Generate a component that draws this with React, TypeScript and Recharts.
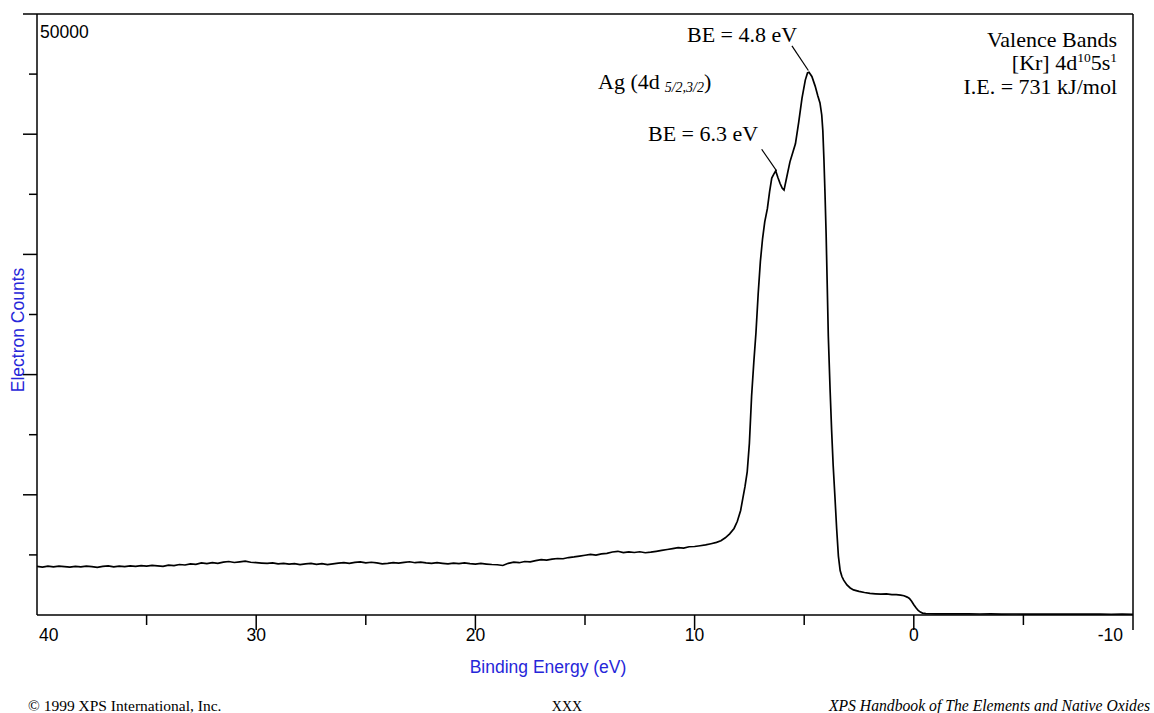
import React from "react";
import { LineChart, Line, XAxis, YAxis, ReferenceLine } from "recharts";

// Ag valence band spectrum, binding energy (eV) vs electron counts
const baseline: [number, number][] = [
  [40, 4050], [39.75, 3990], [39.5, 4060], [39.25, 4010], [39, 4070], [38.75, 4020],
  [38.5, 3980], [38.25, 4050], [38, 4000], [37.75, 4060], [37.5, 4030], [37.25, 3970],
  [37, 4040], [36.75, 4080], [36.5, 4010], [36.25, 4060], [36, 4020], [35.75, 4090],
  [35.5, 4040], [35.25, 4110], [35, 4060], [34.75, 4130], [34.5, 4090], [34.25, 4040],
  [34, 4150], [33.75, 4110], [33.5, 4200], [33.25, 4160], [33, 4260], [32.75, 4210],
  [32.5, 4330], [32.25, 4270], [32, 4350], [31.75, 4300], [31.5, 4400], [31.25, 4450],
  [31, 4370], [30.75, 4420], [30.5, 4480], [30.25, 4390], [30, 4360], [29.75, 4320],
  [29.5, 4290], [29.25, 4340], [29, 4260], [28.75, 4300], [28.5, 4230], [28.25, 4280],
  [28, 4200], [27.75, 4260], [27.5, 4300], [27.25, 4220], [27, 4270], [26.75, 4190],
  [26.5, 4250], [26.25, 4310], [26, 4360], [25.75, 4290], [25.5, 4380], [25.25, 4420],
  [25, 4340], [24.75, 4390], [24.5, 4330], [24.25, 4260], [24, 4300], [23.75, 4360],
  [23.5, 4310], [23.25, 4380], [23, 4430], [22.75, 4350], [22.5, 4400], [22.25, 4330],
  [22, 4290], [21.75, 4350], [21.5, 4300], [21.25, 4260], [21, 4320], [20.75, 4280],
  [20.5, 4330], [20.25, 4270], [20, 4230], [19.75, 4290], [19.5, 4240], [19.25, 4200],
  [19, 4180], [18.75, 4120], [18.5, 4300], [18.25, 4400], [18, 4350], [17.75, 4450],
  [17.5, 4420], [17.25, 4530], [17, 4600], [16.75, 4560], [16.5, 4650], [16.25, 4700],
  [16, 4680], [15.75, 4780], [15.5, 4830], [15.25, 4900], [15, 4970], [14.75, 5050],
  [14.5, 4990], [14.25, 5080], [14, 5130], [13.75, 5240], [13.5, 5300], [13.25, 5190],
  [13, 5250], [12.75, 5200], [12.5, 5260], [12.25, 5180], [12, 5230], [11.75, 5300],
  [11.5, 5380], [11.25, 5450], [11, 5520], [10.75, 5600], [10.5, 5560], [10.25, 5680],
  [10, 5700],
];

const peak: [number, number][] = [
  [9.75, 5760], [9.5, 5830], [9.25, 5930], [9, 6040], [8.8, 6180], [8.6, 6420],
  [8.4, 6750], [8.2, 7200], [8.05, 7800], [7.9, 8700], [7.8, 9700], [7.7, 10700],
  [7.6, 11900], [7.5, 14300], [7.4, 18200], [7.3, 21000], [7.2, 23500], [7.1, 26700],
  [7, 29400], [6.9, 31300], [6.8, 32700], [6.68, 33800], [6.58, 35200], [6.48, 36350],
  [6.38, 36700], [6.3, 36950], [6.2, 36400], [6.1, 35900], [6, 35500], [5.92, 35350],
  [5.8, 36400], [5.65, 37700], [5.5, 38600], [5.4, 39200], [5.25, 41000], [5.1, 43000],
  [4.95, 44500], [4.85, 45100], [4.78, 45150], [4.65, 44800], [4.5, 44000], [4.38, 43200],
  [4.28, 42600], [4.2, 41600], [4.15, 40300], [4.1, 37900], [4.05, 35000], [4, 31700],
  [3.95, 27500], [3.9, 23200], [3.82, 18800], [3.75, 15400], [3.68, 12500], [3.6, 9900],
  [3.52, 7200], [3.44, 4900], [3.36, 3700], [3.28, 3200], [3.2, 2900], [3.05, 2500],
  [2.9, 2250], [2.75, 2090], [2.5, 1960], [2.25, 1870],
];

const tail: [number, number][] = [
  [2, 1800], [1.75, 1760], [1.5, 1730], [1.25, 1750], [1, 1700], [0.8, 1690],
  [0.6, 1660], [0.45, 1600], [0.3, 1490], [0.2, 1380], [0.1, 1150], [0, 860],
  [-0.1, 600], [-0.2, 380], [-0.3, 240], [-0.4, 160], [-0.55, 120], [-0.75, 105],
  [-1, 100], [-1.5, 95], [-2, 90], [-2.5, 95], [-3, 85], [-3.5, 90], [-4, 80],
  [-4.5, 85], [-5, 80], [-5.5, 75], [-6, 80], [-6.5, 70], [-7, 75], [-7.5, 70],
  [-8, 65], [-8.5, 70], [-9, 60], [-9.5, 65], [-10, 60],
];

const xTicks = [40, 35, 30, 25, 20, 15, 10, 5, 0, -5, -10];
const yTicks = [0, 5000, 10000, 15000, 20000, 25000, 30000, 35000, 40000, 45000, 50000];

// leader lines from the peak labels to the peaks
const leader48: [number, number][] = [[5.56, 47350], [4.81, 45300]];
const leader63: [number, number][] = [[6.94, 38750], [6.26, 36950]];

const data = [...baseline, ...peak, ...tail].map(([be, counts]) => ({ be, counts }));

const SANS = "'Liberation Sans', Arial, sans-serif";
const SERIF = "'Liberation Serif', 'Times New Roman', serif";
const BLUE = "#2626d9";

function XTick(props: any) {
  const { x, y, payload } = props;
  const v = payload.value;
  const major = v % 10 === 0;
  const anchor = v === 40 ? "start" : v === -10 ? "end" : "middle";
  const dx = v === 40 ? 2 : v === -10 ? -10 : 0;
  return (
    <g>
      {v !== 40 && (
        <line x1={x} y1={y} x2={x} y2={y + (major ? 15 : 10)} stroke="#000" strokeWidth={1.5} />
      )}
      {major && (
        <text x={x + dx} y={y + 26} textAnchor={anchor} fontFamily={SANS} fontSize={17.5} fill="#000">
          {v}
        </text>
      )}
    </g>
  );
}

function YTick(props: any) {
  const { x, y, payload } = props;
  const v = payload.value;
  if (v === 0) return null;
  const major = v % 10000 === 0;
  return (
    <g>
      <line x1={x - (major ? 14 : 8)} y1={y} x2={x} y2={y} stroke="#000" strokeWidth={1.5} />
      {v === 50000 && (
        <text x={x + 3} y={y + 24} fontFamily={SANS} fontSize={17.5} fill="#000">
          50000
        </text>
      )}
    </g>
  );
}

export default function App() {
  return (
    <div style={{ position: "absolute", left: 0, top: 0, width: 1154, height: 713, background: "#fff" }}>
      <LineChart
        width={1154}
        height={713}
        data={data}
        margin={{ top: 14, right: 21, bottom: 0, left: 0 }}
      >
        <XAxis
          dataKey="be"
          type="number"
          domain={[-10, 40]}
          reversed
          allowDataOverflow
          ticks={xTicks}
          interval={0}
          height={98}
          tickSize={0}
          tickMargin={0}
          tickLine={false}
          axisLine={{ stroke: "#000", strokeWidth: 1.5 }}
          tick={(p: any) => <XTick {...p} />}
        />
        <YAxis
          type="number"
          domain={[0, 50000]}
          allowDataOverflow
          ticks={yTicks}
          interval={0}
          width={37}
          tickSize={0}
          tickMargin={0}
          tickLine={false}
          axisLine={{ stroke: "#000", strokeWidth: 1.5 }}
          tick={(p: any) => <YTick {...p} />}
        />
        <ReferenceLine y={50000} stroke="#000" strokeWidth={1.5} />
        <ReferenceLine x={-10} stroke="#000" strokeWidth={1.5} />
        <ReferenceLine
          segment={leader48.map(([x, y]) => ({ x, y }))}
          stroke="#000"
          strokeWidth={1.2}
        />
        <ReferenceLine
          segment={leader63.map(([x, y]) => ({ x, y }))}
          stroke="#000"
          strokeWidth={1.2}
        />
        <Line
          type="linear"
          dataKey="counts"
          stroke="#000"
          strokeWidth={1.7}
          dot={false}
          isAnimationActive={false}
        />
      </LineChart>

      <svg
        width={1154}
        height={713}
        style={{ position: "absolute", left: 0, top: 0, pointerEvents: "none" }}
      >
        {/* axis titles */}
        <text x={548} y={673} textAnchor="middle" fontFamily={SANS} fontSize={17.5} fill={BLUE}>
          Binding Energy (eV)
        </text>
        <text
          transform="translate(24,330) rotate(-90)"
          textAnchor="middle"
          fontFamily={SANS}
          fontSize={17.5}
          fill={BLUE}
        >
          Electron Counts
        </text>

        {/* peak annotations */}
        <g fontFamily={SERIF} fontSize={22} fill="#000">
          <text x={687} y={42}>BE = 4.8 eV</text>
          <text x={648} y={141}>BE = 6.3 eV</text>
          <text x={598} y={89}>
            Ag (4d
            <tspan fontSize={14} fontStyle="italic" dx={5} dy={3}>5/2,3/2</tspan>
            <tspan dy={-3}>)</tspan>
          </text>
          <text x={1117} y={47} textAnchor="end">Valence Bands</text>
          <text x={1117} y={70} textAnchor="end">
            [Kr] 4d
            <tspan fontSize={13.5} dy={-8}>10</tspan>
            <tspan dy={8}>5s</tspan>
            <tspan fontSize={13.5} dy={-8}>1</tspan>
          </text>
          <text x={1117} y={94} textAnchor="end">I.E. = 731 kJ/mol</text>
        </g>

        {/* footer */}
        <g fontFamily={SERIF} fontSize={15.5} fill="#000">
          <text x={28} y={711}>© 1999 XPS International, Inc.</text>
          <text x={567} y={711} textAnchor="middle" fontSize={14}>XXX</text>
          <text x={1150} y={711} textAnchor="end" fontStyle="italic" fontSize={15.7}>
            XPS Handbook of The Elements and Native Oxides
          </text>
        </g>
      </svg>
    </div>
  );
}
